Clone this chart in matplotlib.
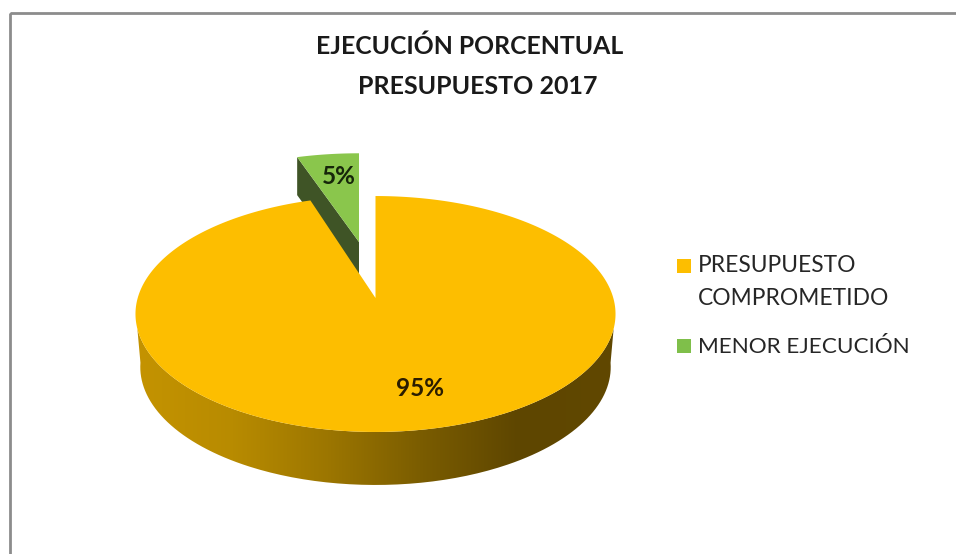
import numpy as np
import matplotlib
matplotlib.use("Agg")
import matplotlib.pyplot as plt
from matplotlib.patches import Polygon, Rectangle, PathPatch
from matplotlib.path import Path
from matplotlib.colors import LinearSegmentedColormap

plt.rcParams['font.family'] = ['Lato', 'DejaVu Sans']

# datos
categorias = ["PRESUPUESTO\nCOMPROMETIDO", "MENOR EJECUCIÓN"]
valores = [95, 5]
etiquetas = ["95%", "5%"]
titulo_1 = "EJECUCIÓN PORCENTUAL"
titulo_2 = "PRESUPUESTO 2017"

AMARILLO = "#FDBE00"
VERDE = "#8AC64C"
VERDE_OSC = "#3F5426"
BORDE = "#8C8C8C"
TEXTO = "#262626"

# geometria del pie en pixeles (proyeccion en perspectiva de un circulo)
CX, CY = 375.5, 298
K = 0.1356
BY = 115.8
BX = 237.8
PROF = 53


def proyecta(theta):
    u = np.sin(theta)
    v = np.cos(theta)
    return CX + BX * u / (1 + K * v), CY - BY * v / (1 + K * v)


fig = plt.figure(figsize=(9.56, 5.54), dpi=100)
ax = fig.add_axes([0, 0, 1, 1])
ax.set_xlim(0, 956)
ax.set_ylim(554, 0)
ax.axis("off")

# marco: solo arriba e izquierda, el resto queda fuera del recorte
ax.add_patch(Rectangle((10, 13), 960, 560, fill=False, ec=BORDE, lw=2))

# angulos desde los valores (en sentido horario desde arriba)
frac = np.array(valores) / sum(valores)
ang_fin = 2 * np.pi * frac[0]

# lateral con degradado
sx, sy = proyecta(np.linspace(np.pi / 2 + 0.1, 3 * np.pi / 2 - 0.1, 200))
bx = CX + (sx - CX) * 0.98
by = sy + PROF
lado = np.column_stack([np.r_[sx, bx[::-1]], np.r_[sy, by[::-1]]])
cmap = LinearSegmentedColormap.from_list(
    "lado", ["#C49300", "#B88B00", "#9C7600", "#7A5C00", "#5E4600", "#614800"]
)
grad = np.linspace(0, 1, 256).reshape(1, -1)
im = ax.imshow(grad, extent=(137, 614, 554, 0), cmap=cmap, aspect="auto", zorder=1)
clip = PathPatch(Path(lado), transform=ax.transData, fc="none", ec="none")
ax.add_patch(clip)
im.set_clip_path(clip)
ax.set_xlim(0, 956)
ax.set_ylim(554, 0)

# porcion verde separada
tv = np.linspace(ang_fin, 2 * np.pi, 30)
vx, vy = proyecta(tv)
DX, DY = -16.5, -56
vx2 = CX + DX + (vx - CX) * 0.95
vy2 = CY + DY + (vy - CY) * 0.87
ap = (CX + DX, CY + DY)
ax.add_patch(Polygon([ap, (vx2[0], vy2[0]), (vx2[0], vy2[0] + 38), (ap[0], ap[1] + 38)],
                     fc=VERDE_OSC, ec="none", zorder=2))
ax.add_patch(Polygon(np.vstack([[ap], np.column_stack([vx2, vy2])]),
                     fc=VERDE, ec="none", zorder=3))

# porcion amarilla
ta = np.linspace(0, ang_fin, 400)
ax_, ay_ = proyecta(ta)
ax.add_patch(Polygon(np.vstack([[(CX, CY)], np.column_stack([ax_, ay_])]),
                     fc=AMARILLO, ec="none", zorder=4))

# etiquetas
ax.text(420, 389, etiquetas[0], ha="center", va="center", fontsize=17.5,
        fontweight="bold", color="#2B1D00", zorder=5)
ax.text(339, 177, etiquetas[1], ha="center", va="center", fontsize=17.5,
        fontweight="bold", color="#16260A", zorder=5)

# titulo
ax.text(469.5, 46, titulo_1, ha="center", va="center", fontsize=17.8,
        fontweight="bold", color="#1A1A1A")
ax.text(478, 86, titulo_2, ha="center", va="center", fontsize=18,
        fontweight="bold", color="#1A1A1A")

# leyenda
ax.add_patch(Rectangle((677, 259), 14, 14, fc=AMARILLO, ec="none"))
ax.add_patch(Rectangle((677, 339), 14, 14, fc="#7FBF4A", ec="none"))
ax.text(698, 282, categorias[0], ha="left", va="center", fontsize=16.4,
        color=TEXTO, linespacing=1.75)
ax.text(698, 347, categorias[1], ha="left", va="center", fontsize=16.2,
        color=TEXTO)

fig.savefig("out.png", dpi=100)
